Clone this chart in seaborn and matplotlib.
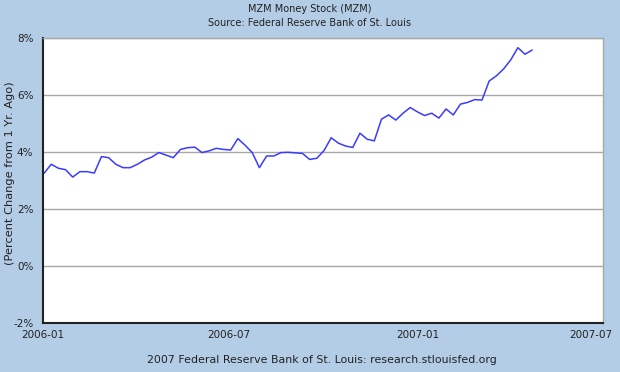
import pandas as pd
import numpy as np
import seaborn as sns
import matplotlib.pyplot as plt
import matplotlib.transforms as mtransforms

# weekly MZM, percent change from a year ago
start_date = "2006-01-02"
mzm_pct = [3.25, 3.57, 3.43, 3.38, 3.12, 3.31, 3.31, 3.26, 3.84, 3.80,
           3.57, 3.45, 3.45, 3.57, 3.72, 3.82, 3.98, 3.89, 3.80, 4.09,
           4.15, 4.17, 3.98, 4.04, 4.13, 4.09, 4.07, 4.47, 4.24, 3.98,
           3.45, 3.86, 3.86, 3.98, 3.99, 3.97, 3.95, 3.74, 3.78, 4.05,
           4.50, 4.31, 4.21, 4.16, 4.66, 4.45, 4.39, 5.15, 5.30, 5.12,
           5.36, 5.56, 5.41, 5.28, 5.36, 5.19, 5.51, 5.30, 5.68, 5.74,
           5.84, 5.82, 6.49, 6.67, 6.91, 7.23, 7.66, 7.43, 7.58]

y_ticks = [-2, 0, 2, 4, 6, 8]
x_ticks = ["2006-01-01", "2006-07-01", "2007-01-01", "2007-07-01"]
x_labels = ["2006-01", "2006-07", "2007-01", "2007-07"]

df = pd.DataFrame({
    "date": pd.date_range(start_date, periods=len(mzm_pct), freq="7D"),
    "pct": mzm_pct,
})

bg = "#b4cde6"
ink = "#222222"
sns.set_style("white")
plt.rcParams["font.family"] = ["DejaVu Sans"]

fig = plt.figure(figsize=(6.2, 3.72), dpi=100, facecolor=bg)
ax = fig.add_axes([43 / 620, 1 - 323 / 372, 560 / 620, 285 / 372])
ax.set_facecolor("white")

sns.lineplot(data=df, x="date", y="pct", ax=ax, color="#3b3bff", linewidth=1.1)

ax.set_xlim(pd.Timestamp("2006-01-01"), pd.Timestamp("2007-07-01"))
ax.set_ylim(-2, 8)
ax.set_yticks(y_ticks)
ax.set_yticklabels([f"{v}%" for v in y_ticks])
ax.set_xticks([pd.Timestamp(d) for d in x_ticks])
ax.set_xticklabels(x_labels)
ax.grid(axis="y", color="#a8a8a8", linewidth=1)
ax.set_axisbelow(True)

ax.tick_params(axis="both", direction="in", length=5, width=1.2, color=ink,
               labelsize=7.5, labelcolor=ink)
ax.tick_params(axis="y", pad=7)
ax.tick_params(axis="x", pad=5)
ax.set_xlabel("")
ax.set_ylabel("")

# last date label sits left of its tick, inside the figure
last = ax.get_xticklabels()[-1]
last.set_transform(last.get_transform()
                   + mtransforms.ScaledTranslation(-12 / 100, 0, fig.dpi_scale_trans))

for side in ["left", "bottom"]:
    ax.spines[side].set_color(ink)
    ax.spines[side].set_linewidth(1.5)
for side in ["top", "right"]:
    ax.spines[side].set_color("#a8a8a8")
    ax.spines[side].set_linewidth(1)

fig.text(0.5, 1 - 8.5 / 372, "MZM Money Stock (MZM)", ha="center", va="center",
         fontsize=7, color=ink)
fig.text(0.5, 1 - 22.5 / 372, "Source: Federal Reserve Bank of St. Louis", ha="center",
         va="center", fontsize=7, color=ink)
fig.text(322 / 620, 1 - 360 / 372,
         "2007 Federal Reserve Bank of St. Louis: research.stlouisfed.org",
         ha="center", va="center", fontsize=7.9, color=ink)
fig.text(10 / 620, 1 - 173 / 372, "(Percent Change from 1 Yr. Ago)", ha="center",
         va="center", rotation=90, fontsize=8.2, color=ink)

fig.savefig("out.png", dpi=100, facecolor=bg)
